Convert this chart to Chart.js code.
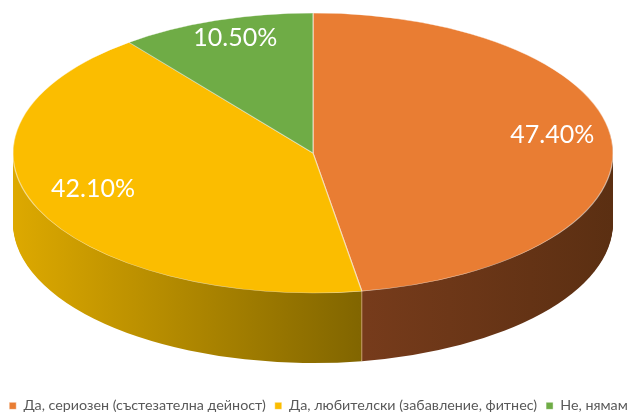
<!DOCTYPE html>
<html>
<head>
<meta charset="utf-8">
<script src="https://cdn.jsdelivr.net/npm/chart.js@4"></script>
<style>
  body { margin: 0; background: #fff; }
  #wrap { width: 637px; height: 414px; position: relative; }
</style>
</head>
<body>
<div id="wrap"><canvas id="myChart"></canvas></div>
<script>
// setup block
const labels = [
  "Да, сериозен (състезателна дейност)",
  "Да, любителски (забавление, фитнес)",
  "Не, нямам",
];
const datapoints = [47.4, 42.1, 10.5];
const topColors = ["#E97D33", "#FBBD00", "#6FAC46"];
// side colours: [left, right] of the gradient band
const sideColors = [
  ["#763B1B", "#5B2F12"],
  ["#DDA900", "#7E6300"],
  ["#4C7B2F", "#3A5F24"],
];

// 3d layout of the disc on the canvas
const CX = 313, CY = 153, RX = 300, RY = 140, DEPTH = 70;

const pie3d = {
  id: "pie3d",
  beforeDatasetsDraw(chart) {
    const ctx = chart.ctx;
    const arcs = chart.getDatasetMeta(0).data;
    if (!arcs.length) return;
    const { x, y, outerRadius: r } = arcs[0];
    const sx = RX / r, sy = RY / r;
    // gradients in chart coordinates (transform is applied at fill time)
    const grads = sideColors.map((c, i) => {
      const g = ctx.createLinearGradient(x - r, 0, x + r, 0);
      if (i === 0) {
        g.addColorStop(0, c[0]);
        g.addColorStop(0.59, c[0]);
        g.addColorStop(1, c[1]);
      } else {
        g.addColorStop(0, c[0]);
        g.addColorStop(0.6, c[1]);
        g.addColorStop(1, c[1]);
      }
      return g;
    });
    // side wall: stack of shifted copies, bottom first
    for (let d = DEPTH; d > 0; d--) {
      ctx.save();
      ctx.translate(CX, CY + d);
      ctx.scale(sx, sy);
      ctx.translate(-x, -y);
      arcs.forEach((arc, i) => {
        ctx.beginPath();
        ctx.moveTo(x, y);
        ctx.arc(x, y, r, arc.startAngle, arc.endAngle);
        ctx.closePath();
        ctx.fillStyle = grads[i];
        ctx.fill();
      });
      ctx.restore();
    }
    // seam between the side walls
    ctx.save();
    ctx.strokeStyle = "rgba(235,200,150,0.7)";
    ctx.lineWidth = 1;
    arcs.forEach((arc) => {
      const a = arc.startAngle;
      const sn = Math.sin(a);
      if (sn > 0) {
        const px = CX + RX * Math.cos(a), py = CY + RY * sn;
        ctx.beginPath();
        ctx.moveTo(px, py);
        ctx.lineTo(px, py + DEPTH);
        ctx.stroke();
      }
    });
    ctx.restore();
    // top face: squash the library's own arcs into an ellipse
    ctx.save();
    ctx.translate(CX, CY);
    ctx.scale(sx, sy);
    ctx.translate(-x, -y);
  },
  afterDatasetsDraw(chart) {
    const ctx = chart.ctx;
    ctx.restore();
    const arcs = chart.getDatasetMeta(0).data;
    ctx.save();
    ctx.fillStyle = "#ffffff";
    ctx.font = "25px Lato";
    ctx.textAlign = "center";
    ctx.textBaseline = "middle";
    arcs.forEach((arc, i) => {
      const mid = (arc.startAngle + arc.endAngle) / 2;
      const px = CX + RX * 0.8 * Math.cos(mid);
      const py = CY + RY * 0.8 * Math.sin(mid) - 9;
      ctx.fillText(datapoints[i].toFixed(2) + "%", px, py);
    });
    ctx.restore();
  },
};

const data = {
  labels: labels,
  datasets: [
    {
      data: datapoints,
      backgroundColor: topColors,
      borderColor: "rgba(255,255,255,0.55)",
      borderWidth: 0.8,
      clip: false,
    },
  ],
};

// config block
const config = {
  type: "pie",
  data: data,
  options: {
    responsive: true,
    maintainAspectRatio: false,
    animation: false,
    events: [],
    layout: { padding: { bottom: -9 } },
    plugins: {
      legend: {
        position: "bottom",
        labels: {
          boxWidth: 7,
          boxHeight: 7,
          padding: 9,
          color: "#595959",
          font: { family: "Lato", size: 14.3 },
        },
      },
      tooltip: { enabled: false },
    },
  },
  plugins: [pie3d],
};

// render init block
const myChart = new Chart(document.getElementById("myChart"), config);
</script>
</body>
</html>
